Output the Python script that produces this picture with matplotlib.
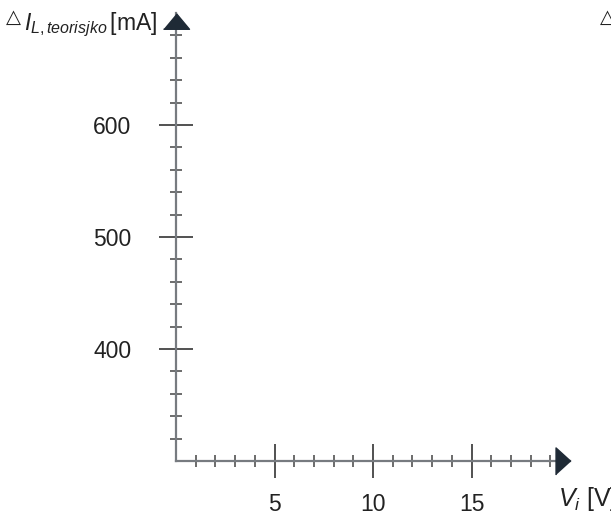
import matplotlib

matplotlib.use("Agg")
import matplotlib.pyplot as plt

# osi grafa (prazan graf za skiciranje)
x_major = [5, 10, 15]
x_minor = [1, 2, 3, 4, 6, 7, 8, 9, 11, 12, 13, 14, 16, 17, 18, 19]
y_major = [400, 500, 600]
y_minor = [320, 340, 360, 380, 420, 440, 460, 480, 520, 540, 560, 580,
           620, 640, 660, 680]
x_range = (0, 20)
y_range = (300, 700)

plt.rcParams["font.family"] = ["Liberation Sans", "DejaVu Sans"]
plt.rcParams["mathtext.fontset"] = "custom"
plt.rcParams["mathtext.rm"] = "Liberation Sans"
plt.rcParams["mathtext.it"] = "Liberation Sans:italic"

W, H = 611, 515
fig = plt.figure(figsize=(W / 100, H / 100), dpi=100)
ax = fig.add_axes([176 / W, 54 / H, 394 / W, 448 / H])

axis_col = "#777b80"
tick_col = "#222222"
text_col = "#222222"

ax.set_xlim(*x_range)
ax.set_ylim(*y_range)
for s in ["top", "right"]:
    ax.spines[s].set_visible(False)
for s in ["left", "bottom"]:
    ax.spines[s].set_color(axis_col)
    ax.spines[s].set_linewidth(1.6)

ax.set_xticks(x_major)
ax.set_xticks(x_minor, minor=True)
ax.set_yticks(y_major)
ax.set_yticks(y_minor, minor=True)
ax.set_xticklabels([str(v) for v in x_major])
ax.set_yticklabels([str(v) for v in y_major])

ax.tick_params(which="major", direction="inout", length=24.5, width=1.1,
               color=tick_col, labelsize=16.5, labelcolor=text_col)
ax.tick_params(which="minor", direction="inout", length=8.6, width=1.1,
               color="#444444")
ax.tick_params(axis="x", which="major", pad=11)
ax.tick_params(axis="y", which="major", pad=20)

# strelice na krajevima osi
arrow_right = [(-0.55, -1.0), (-0.55, 1.0), (0.55, 0.0)]
arrow_up = [(-1.0, -0.6), (1.0, -0.6), (0.0, 0.6)]
ax.plot([x_range[1] - 0.38], [y_range[0]], marker=arrow_right,
        markersize=19.5, color="#1f2a36", clip_on=False, zorder=5)
ax.plot([x_range[0]], [y_range[1] - 7.3], marker=arrow_up,
        markersize=18.7, color="#1f2a36", clip_on=False, zorder=5)

# natpisi osi
def ylabel(x_px):
    fig.text(x_px / W, 1 - 23 / H, "\u25b3", fontsize=14, color=text_col,
             va="baseline", ha="left", family="DejaVu Sans")
    fig.text((x_px + 18) / W, 1 - 30 / H, r"$I_{L,teorisjko}\,$[mA]",
             fontsize=16.5, color=text_col, va="baseline", ha="left")

ylabel(6)
ylabel(600)
fig.text(558 / W, 1 - 506 / H, r"$V_i$ [V]", fontsize=18, color=text_col,
         va="baseline", ha="left")

fig.savefig("out.png", dpi=100)
